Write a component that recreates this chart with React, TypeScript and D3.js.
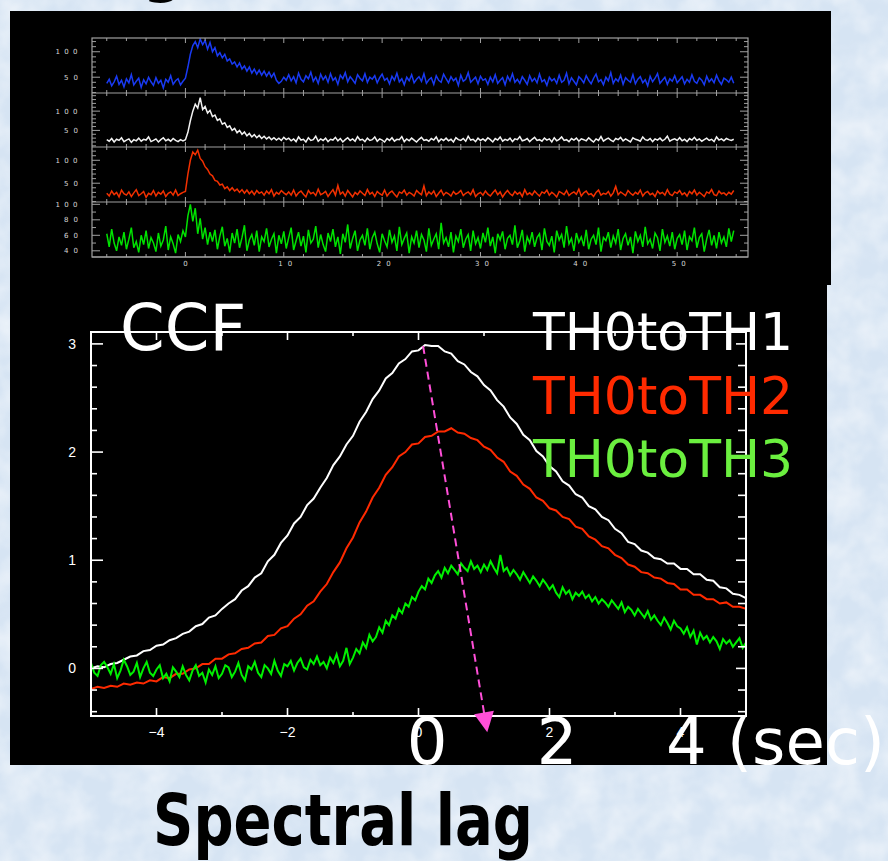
import React, { useEffect } from "react";
import * as d3 from "d3";

// ---------- Light curves (top panel), 0.25 s bins starting at -8 s ----------
const lcStart = -8;
const lcStep = 0.25;

const blueCounts = [
  38,46,33,41,52,36,44,31,47,39, 55,35,42,48,30,45,37,50,41,34, 49,38,44,29,46,40,53,36,43,47, 35,42,
  48,70,95,112,120,108,125,114,122,105, 118,100,108,92,98,88,95,82,86,76, 80,70,78,66,72,62,70,58,66,56, 64,54,62,52,60,50,58,44,38,42, 50,44,
  55,43,51,39,58,46,41,53,47,60, 42,50,38,56,45,52,40,57,44,49, 36,54,47,59,41,51,45,38,55,48, 43,57,40,50,46,53,39,49,56,44,
  48,37,52,44,58,41,47,35,50,43, 55,39,46,51,42,57,38,45,49,36, 53,44,40,56,47,39,51,43,48,34, 54,42,46,59,40,45,50,37,52,44,
  47,36,50,41,55,38,44,49,35,52, 43,57,40,46,38,51,44,36,53,42, 48,39,56,41,45,34,50,43,47,38, 54,40,44,58,37,49,42,35,51,46,
  39,53,44,37,48,56,41,45,35,50, 43,59,38,47,42,54,36,49,44,40, 55,37,46,51,39,45,33,52,41,48, 57,38,44,50,36,47,42,53,39,45,
  51,37,46,40,55,42,38,49,44,35, 52,41,47,39,54,43,36,48,45,40, 50,38,
];

const whiteCounts = [
  26,22,29,20,27,24,31,21,25,28, 19,26,23,30,22,27,25,33,21,24, 28,20,26,31,23,27,22,29,24,21, 26,23,
  26,45,75,100,118,108,135,104,112,95, 102,86,90,76,80,66,70,58,62,50, 55,44,50,40,46,36,42,33,39,31, 37,29,35,28,33,26,31,25,30,24, 32,26,
  30,23,28,21,33,25,27,20,31,24, 26,35,22,28,24,30,21,27,25,32, 23,29,20,26,31,24,28,22,34,25, 27,21,30,24,26,33,22,28,25,20,
  29,24,31,22,27,26,34,21,28,23, 30,25,20,27,32,24,26,22,29,25, 33,21,28,24,30,23,27,20,31,26, 24,29,22,35,25,27,21,30,24,28,
  23,31,26,20,29,25,33,22,27,24, 30,21,28,26,34,23,25,29,21,27, 32,24,26,22,30,25,28,20,31,23, 27,33,24,26,21,29,25,30,22,28,
  26,23,31,25,20,28,24,34,22,27, 30,25,21,29,26,32,23,28,24,20, 31,27,25,22,33,26,24,29,21,28, 25,30,23,27,35,22,26,28,24,31,
  23,27,21,29,25,32,24,28,22,26, 30,24,27,21,33,25,28,23,29,26, 24,27,
];

const redCounts = [
  28,22,33,25,30,20,35,27,24,31, 21,29,36,23,27,32,19,28,25,34, 22,30,26,33,21,28,31,24,35,23, 27,30,
  32,70,100,118,112,122,104,98,86,80, 70,66,56,54,46,48,38,42,34,40, 33,37,30,36,28,35,27,33,25,34, 28,31,24,33,27,36,22,30,26,34, 29,25,
  31,24,35,22,29,33,26,20,34,27, 30,23,37,25,28,32,21,29,36,24, 45,26,31,22,34,27,20,30,25,33, 28,23,36,26,30,21,32,27,24,35,
  22,29,33,26,20,31,28,35,24,30, 27,22,34,29,25,44,23,31,26,33, 21,28,35,24,30,27,22,32,26,29, 34,23,28,31,25,36,21,27,30,24,
  33,26,22,29,35,25,31,20,28,34, 27,23,32,26,30,21,36,25,29,24, 33,27,22,31,28,35,24,30,26,20, 32,29,25,34,23,28,31,26,37,22,
  29,33,25,27,21,30,35,24,28,26, 32,22,29,43,25,31,27,23,34,28, 24,30,26,35,22,29,32,25,28,21, 33,27,30,24,36,26,23,31,28,34,
  25,29,22,32,27,35,24,30,26,21, 31,28,36,25,23,33,27,29,24,30, 26,34,
];

const greenCounts = [
  62,45,68,50,40,58,47,64,42,55, 70,44,52,38,60,48,66,43,57,50, 39,63,46,54,72,41,58,49,37,61, 52,66,
  58,85,100,78,95,62,82,55,70,48, 64,52,67,42,59,71,46,56,38,63, 50,68,44,57,73,40,54,61,47,66, 39,58,52,69,45,55,62,37,60,49, 65,43,
  57,70,41,53,64,46,59,38,67,50, 55,72,44,61,48,39,63,52,68,45, 58,36,62,51,74,43,56,66,40,54, 60,47,69,42,57,64,49,38,62,53,
  45,67,51,59,40,71,48,56,63,37, 58,50,66,44,61,54,39,69,47,55, 62,42,76,50,57,45,64,38,59,52, 68,44,55,61,40,66,49,57,43,63,
  51,70,46,58,37,62,54,65,42,56, 60,48,73,44,53,67,39,58,50,64, 45,57,62,41,69,52,47,59,38,66, 54,61,44,72,49,56,40,63,51,58,
  46,67,42,55,60,48,70,39,57,53, 64,44,59,50,68,41,56,62,47,58, 37,65,52,60,45,71,49,55,43,63, 57,40,68,51,59,46,64,42,56,61,
  48,66,41,58,53,70,44,57,62,39, 55,67,47,60,43,64,50,58,45,69, 52,66,
];

const lcTimeTicks = [0, 10, 20, 30, 40, 50];
const lcTickLabels = ["0", "10", "20", "30", "40", "50"];
const blueTicks = [50, 100];
const whiteTicks = [50, 100];
const redTicks = [50, 100];
const greenTicks = [40, 60, 80, 100];

// ---------- CCF (bottom panel) ----------
const ccfStart = -5;
const ccfStepCoarse = 0.1;
const ccfStepFine = 0.05;

const ccfTH1 = [
  0.00,0.02,0.01,0.04,0.05,0.08,0.11,0.12,0.16,0.17,
  0.21,0.22,0.26,0.28,0.32,0.34,0.39,0.41,0.47,0.49,
  0.55,0.60,0.64,0.72,0.76,0.84,0.88,0.99,1.05,1.16,
  1.23,1.34,1.40,1.51,1.57,1.67,1.76,1.88,1.96,2.07,
  2.15,2.28,2.37,2.49,2.57,2.68,2.73,2.82,2.86,2.93,
  2.94,2.99,2.98,2.98,2.93,2.91,2.84,2.81,2.74,2.70,
  2.62,2.57,2.48,2.42,2.32,2.26,2.16,2.11,2.01,1.96,
  1.87,1.82,1.73,1.69,1.61,1.58,1.50,1.47,1.40,1.37,
  1.29,1.25,1.17,1.15,1.09,1.07,1.02,1.01,0.97,0.97,
  0.92,0.92,0.87,0.87,0.82,0.81,0.75,0.74,0.69,0.68,
  0.65,
];

const ccfTH2 = [
  -0.19,-0.17,-0.18,-0.16,-0.17,-0.14,-0.15,-0.13,-0.14,-0.11,
  -0.12,-0.08,-0.09,-0.05,-0.05,-0.01,0.00,0.04,0.04,0.09,
  0.09,0.13,0.14,0.18,0.19,0.23,0.24,0.30,0.31,0.37,
  0.39,0.46,0.50,0.58,0.62,0.71,0.78,0.89,0.98,1.11,
  1.21,1.35,1.45,1.58,1.67,1.79,1.86,1.96,2.00,2.07,
  2.08,2.14,2.15,2.19,2.19,2.22,2.18,2.17,2.13,2.11,
  2.05,2.02,1.95,1.91,1.82,1.78,1.70,1.66,1.58,1.55,
  1.48,1.46,1.40,1.38,1.31,1.29,1.22,1.19,1.13,1.11,
  1.05,1.02,0.96,0.94,0.89,0.88,0.84,0.83,0.79,0.78,
  0.73,0.73,0.68,0.68,0.64,0.64,0.60,0.61,0.57,0.57,
  0.55,
];

const ccfTH3 = [
  0.05,-0.04,-0.07,0.03,0.06,0.01,-0.05,0.04,-0.09,-0.02, 0.08,0.02,-0.06,-0.03,0.05,-0.08,0.00,0.06,-0.04,-0.07,
  -0.01,0.03,-0.09,-0.05,-0.12,0.01,-0.03,-0.08,0.02,-0.06, -0.11,-0.02,0.03,-0.07,-0.04,-0.13,-0.01,-0.06,0.02,-0.09,
  -0.05,0.03,0.01,-0.08,-0.03,0.05,-0.06,-0.11,0.02,-0.01, 0.06,-0.04,-0.08,0.03,0.00,-0.05,0.07,-0.02,-0.07,0.04,
  0.02,0.07,-0.02,0.05,0.09,0.01,-0.01,0.08,0.04,0.11, 0.03,0.06,0.00,0.10,0.05,0.13,0.02,0.07,0.19,0.04,
  0.10,0.18,0.14,0.24,0.19,0.31,0.25,0.29,0.38,0.33, 0.44,0.40,0.49,0.46,0.55,0.51,0.60,0.57,0.66,0.63,
  0.71,0.76,0.73,0.83,0.79,0.86,0.90,0.84,0.93,0.88, 0.95,0.91,0.87,0.97,0.93,0.90,0.99,0.92,0.95,0.89,
  0.96,0.91,0.99,0.93,0.88,1.05,0.90,0.93,0.86,0.91, 0.87,0.82,0.89,0.84,0.79,0.85,0.81,0.76,0.82,0.78,
  0.73,0.77,0.70,0.66,0.75,0.69,0.72,0.64,0.70,0.67, 0.71,0.65,0.68,0.62,0.66,0.60,0.64,0.61,0.57,0.63,
  0.59,0.55,0.61,0.52,0.57,0.54,0.49,0.55,0.51,0.47, 0.53,0.45,0.49,0.44,0.40,0.47,0.42,0.36,0.44,0.39,
  0.37,0.32,0.38,0.29,0.35,0.22,0.33,0.27,0.30,0.24, 0.29,0.25,0.18,0.27,0.23,0.26,0.20,0.24,0.28,0.19,0.24,
];

const legendLabels = ["TH0toTH1", "TH0toTH2", "TH0toTH3"];
const ccfYTicks = [0, 1, 2, 3];
const ccfXTicks = [-4, -2, 0, 2, 4];
const ccfXTickLabels = ["\u22124", "\u22122", "0", "2", "4"];
const bigAxisLabels = ["0", "2", "4 (sec)"];
const lagArrow = [
  [0.07, 2.98],
  [1.05, -0.59],
];

// ---------- layout ----------
const W = 888;
const H = 861;

export default function App() {
  useEffect(() => {
    document.body.style.margin = "0";
  }, []);

  // top panel
  const lcX = d3.scaleLinear().domain([-9.5, 57.2]).range([92, 748]);
  const panelEdges = [38, 93, 147, 202, 257];
  const panels = [
    { values: blueCounts, color: "#1a3dff", domain: [19, 127], ticks: blueTicks },
    { values: whiteCounts, color: "#ffffff", domain: [7, 147], ticks: whiteTicks },
    { values: redCounts, color: "#ff3300", domain: [9, 129], ticks: redTicks },
    { values: greenCounts, color: "#00ee00", domain: [32, 103], ticks: greenTicks },
  ];
  const frameGray = "#a0a0a0";
  const lcTickCol = "#d8d8d8";
  const xMinor = d3.range(-8, 57, 2);

  // CCF panel
  const cx = d3.scaleLinear().domain([-5, 5]).range([91, 746]);
  const cy = d3.scaleLinear().domain([-0.44, 3.11]).range([716, 332]);
  const ccfLine = (step: number) =>
    d3
      .line<number>()
      .x((_, i) => cx(ccfStart + i * step))
      .y((v) => cy(v));
  const ccfSeries = [
    { values: ccfTH2, step: ccfStepCoarse, color: "#ff2a00" },
    { values: ccfTH1, step: ccfStepCoarse, color: "#ffffff" },
    { values: ccfTH3, step: ccfStepFine, color: "#00f000" },
  ];
  const legendColors = ["#ffffff", "#ff2a00", "#6bef3f"];
  const yMinorC = d3.range(-0.4, 3.01, 0.2).map((v) => Math.round(v * 10) / 10);
  const xMinorC = d3.range(-5, 5.01, 1);

  const a0 = [cx(lagArrow[0][0]), cy(lagArrow[0][1])];
  const a1 = [cx(lagArrow[1][0]), cy(lagArrow[1][1])];
  const ang = Math.atan2(a1[1] - a0[1], a1[0] - a0[0]);
  const headLen = 20;
  const headHalf = 10;
  const hb = [a1[0] - headLen * Math.cos(ang), a1[1] - headLen * Math.sin(ang)];
  const px = -Math.sin(ang);
  const py = Math.cos(ang);
  const headPts = [
    [a1[0], a1[1]],
    [hb[0] + headHalf * px, hb[1] + headHalf * py],
    [hb[0] - headHalf * px, hb[1] - headHalf * py],
  ];

  const bigX = [427, 557, 666];
  const bigAnchor = ["middle", "middle", "start"];

  return (
    <svg
      width={W}
      height={H}
      viewBox={`0 0 ${W} ${H}`}
      style={{ position: "absolute", left: 0, top: 0, display: "block" }}
    >
      <defs>
        <filter id="mottle" x="0" y="0" width="100%" height="100%">
          <feTurbulence type="fractalNoise" baseFrequency="0.035" numOctaves="3" seed="4" />
          <feColorMatrix
            type="matrix"
            values="0 0 0 0 1  0 0 0 0 1  0 0 0 0 1  0 0 0 -1.6 1.1"
          />
        </filter>
        {panels.map((p, i) => (
          <clipPath id={`lcclip${i}`} key={i}>
            <rect x={92} y={panelEdges[i]} width={656} height={panelEdges[i + 1] - panelEdges[i]} />
          </clipPath>
        ))}
        <clipPath id="ccfclip">
          <rect x={91} y={332} width={655} height={384} />
        </clipPath>
      </defs>

      {/* background */}
      <rect x={0} y={0} width={W} height={H} fill="#d6e4f3" />
      <rect x={0} y={0} width={W} height={H} filter="url(#mottle)" opacity={0.55} />

      {/* partial title glyph at very top */}
      <text x={143} y={-9} fontFamily="DejaVu Sans" fontWeight="bold" fontSize={56} fill="#000">
        g
      </text>

      {/* black boxes */}
      <rect x={10} y={11} width={821} height={274} fill="#000" />
      <rect x={10} y={285} width={817} height={480} fill="#000" />

      {/* ---------- top light curves ---------- */}
      {panels.map((p, i) => {
        const top = panelEdges[i];
        const bot = panelEdges[i + 1];
        const y = d3.scaleLinear().domain(p.domain).range([bot, top]);
        const line = d3
          .line<number>()
          .x((_, k) => lcX(lcStart + k * lcStep))
          .y((v) => y(v));
        const minorY = d3.range(Math.ceil(p.domain[0] / 10) * 10, p.domain[1], 10);
        return (
          <g key={i}>
            <path
              d={line(p.values) || ""}
              fill="none"
              stroke={p.color}
              strokeWidth={1.5}
              strokeOpacity={0.95}
              clipPath={`url(#lcclip${i})`}
            />
            {xMinor.map((t) => {
              const len = t % 10 === 0 ? 5 : 3;
              return (
                <g key={t}>
                  <line x1={lcX(t)} x2={lcX(t)} y1={top} y2={top + len} stroke={frameGray} strokeWidth={1} />
                  <line x1={lcX(t)} x2={lcX(t)} y1={bot} y2={bot - len} stroke={frameGray} strokeWidth={1} />
                </g>
              );
            })}
            {minorY.map((v) => {
              const major = p.ticks.includes(v);
              const len = major ? 8 : 4;
              return (
                <g key={v}>
                  <line x1={92} x2={92 + len} y1={y(v)} y2={y(v)} stroke={frameGray} strokeWidth={1} />
                  <line x1={748} x2={748 - len} y1={y(v)} y2={y(v)} stroke={frameGray} strokeWidth={1} />
                </g>
              );
            })}
            {p.ticks.map((v) => {
              const s = String(v);
              return (
                <text
                  key={v}
                  x={80 - 4.5 * s.length}
                  y={y(v) + 2.6}
                  fontFamily="DejaVu Sans"
                  fontSize={7}
                  fill={lcTickCol}
                  textAnchor="middle"
                  textLength={8 * s.length - 2}
                  lengthAdjust="spacing"
                >
                  {s}
                </text>
              );
            })}
            <line x1={92} x2={748} y1={bot} y2={bot} stroke={frameGray} strokeWidth={1.2} />
          </g>
        );
      })}
      <rect x={92} y={38} width={656} height={219} fill="none" stroke={frameGray} strokeWidth={1.2} />
      {lcTimeTicks.map((t, i) => (
        <text
          key={t}
          x={lcX(t) + (lcTickLabels[i].length > 1 ? 1.5 : 0)}
          y={266}
          fontFamily="DejaVu Sans"
          fontSize={7}
          fill={lcTickCol}
          textAnchor="middle"
          textLength={8 * lcTickLabels[i].length - 2}
          lengthAdjust="spacing"
        >
          {lcTickLabels[i]}
        </text>
      ))}

      {/* ---------- CCF panel ---------- */}
      <g clipPath="url(#ccfclip)">
        {ccfSeries.map((s, i) => (
          <path
            key={i}
            d={ccfLine(s.step)(s.values) || ""}
            fill="none"
            stroke={s.color}
            strokeWidth={2}
            strokeLinejoin="miter"
          />
        ))}
      </g>

      <rect x={91} y={332} width={655} height={384} fill="none" stroke="#ffffff" strokeWidth={2} />
      {yMinorC.map((v) => {
        const major = Math.abs(v - Math.round(v)) < 1e-6;
        return (
          <g key={v}>
            <line x1={91} x2={91 + (major ? 12 : 6)} y1={cy(v)} y2={cy(v)} stroke="#fff" strokeWidth={1.6} />
            <line x1={746} x2={746 - (major ? 10 : 8)} y1={cy(v)} y2={cy(v)} stroke="#fff" strokeWidth={1.6} />
          </g>
        );
      })}
      {xMinorC.map((t) => {
        const major = t % 2 === 0;
        return (
          <g key={t}>
            <line x1={cx(t)} x2={cx(t)} y1={332} y2={332 + (major ? 8 : 4)} stroke="#fff" strokeWidth={1.6} />
            <line x1={cx(t)} x2={cx(t)} y1={716} y2={716 - (major ? 8 : 4)} stroke="#fff" strokeWidth={1.6} />
          </g>
        );
      })}
      {ccfYTicks.map((v) => (
        <text
          key={v}
          x={76}
          y={cy(v) + 5}
          fontFamily="Liberation Sans"
          fontSize={14}
          fill="#fff"
          textAnchor="end"
        >
          {v}
        </text>
      ))}
      {ccfXTicks.map((t, i) => (
        <text
          key={t}
          x={cx(t)}
          y={737}
          fontFamily="Liberation Sans"
          fontSize={14}
          fill="#fff"
          textAnchor="middle"
        >
          {ccfXTickLabels[i]}
        </text>
      ))}

      <line
        x1={a0[0]}
        y1={a0[1]}
        x2={hb[0]}
        y2={hb[1]}
        stroke="#ff4fd8"
        strokeWidth={2}
        strokeDasharray="8,5"
      />
      <polygon points={headPts.map((p) => p.join(",")).join(" ")} fill="#ff4fd8" />

      <text x={120} y={350} fontFamily="DejaVu Sans" fontSize={64} fill="#fff">
        CCF
      </text>
      {legendLabels.map((l, i) => (
        <text
          key={l}
          x={533}
          y={350 + i * 63.5}
          fontFamily="DejaVu Sans"
          fontSize={52}
          fill={legendColors[i]}
        >
          {l}
        </text>
      ))}
      {bigAxisLabels.map((l, i) => (
        <text
          key={l}
          x={bigX[i]}
          y={764}
          fontFamily="DejaVu Sans"
          fontSize={64}
          fill="#fff"
          textAnchor={bigAnchor[i] as any}
        >
          {l}
        </text>
      ))}

      <text
        x={153}
        y={845}
        fontFamily="DejaVu Sans"
        fontWeight="bold"
        fontSize={72}
        fill="#000"
        textLength={380}
        lengthAdjust="spacingAndGlyphs"
      >
        Spectral lag
      </text>
    </svg>
  );
}
